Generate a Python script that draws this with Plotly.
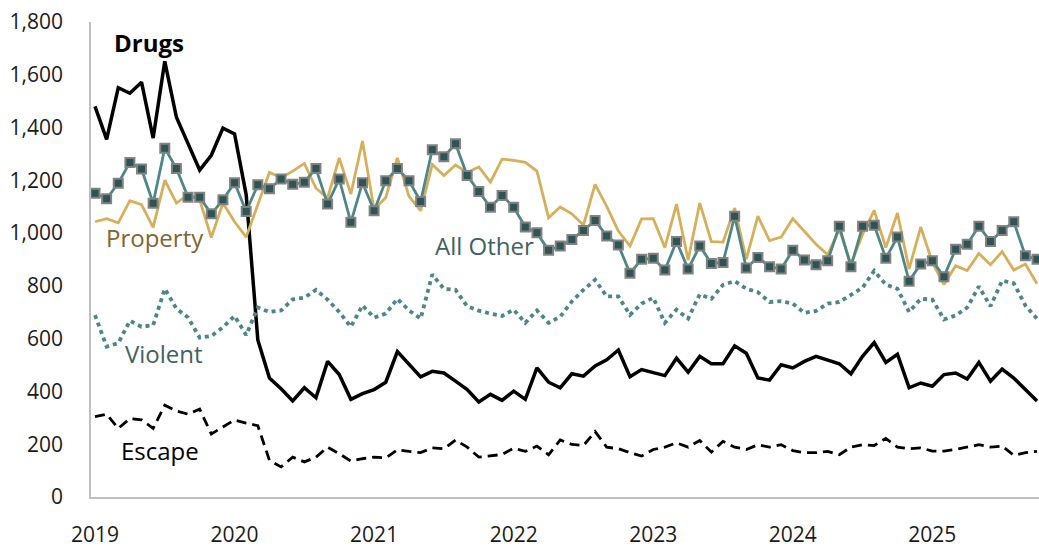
import plotly.graph_objects as go

# Monthly data, Jan 2019 - Oct 2025 (82 months)
years = ["2019", "2020", "2021", "2022", "2023", "2024", "2025"]

drugs = [1480, 1355, 1551, 1530, 1572, 1360, 1651, 1439, 1339, 1239, 1295, 1398,
         1376, 1145, 595, 451, 410, 364, 414, 376, 514, 464, 370, 392,
         407, 435, 551, 501, 455, 476, 470, 439, 407, 360, 389, 366,
         401, 370, 489, 435, 414, 467, 458, 497, 520, 557, 456, 483,
         473, 460, 526, 473, 533, 505, 505, 573, 545, 451, 443, 501,
         489, 514, 533, 518, 505, 467, 533, 585, 510, 541, 414, 432,
         420, 464, 470, 447, 510, 439, 485, 451, 407, 364]

property_ = [1043, 1055, 1039, 1123, 1108, 1022, 1201, 1114, 1145, 1126, 983, 1114,
             1043, 985, 1108, 1230, 1210, 1235, 1264, 1170, 1133, 1285, 1148, 1349,
             1089, 1135, 1285, 1139, 1085, 1260, 1218, 1258, 1230, 1251, 1193, 1280,
             1276, 1268, 1235, 1058, 1099, 1073, 1030, 1185, 1101, 1008, 951, 1054,
             1055, 945, 1110, 898, 1114, 968, 966, 1095, 901, 1064, 972, 985,
             1055, 1008, 958, 918, 1014, 883, 995, 1086, 945, 1076, 864, 1023,
             889, 805, 876, 858, 923, 880, 930, 860, 883, 808]

all_other = [1151, 1130, 1189, 1268, 1243, 1113, 1322, 1245, 1136, 1136, 1073, 1126,
             1191, 1082, 1183, 1168, 1205, 1185, 1193, 1245, 1110, 1205, 1041, 1191,
             1085, 1198, 1245, 1198, 1120, 1316, 1289, 1339, 1218, 1158, 1098, 1143,
             1098, 1023, 1001, 935, 951, 976, 1010, 1048, 989, 955, 848, 901,
             905, 860, 968, 864, 951, 885, 889, 1064, 868, 908, 873, 864,
             935, 898, 880, 895, 1026, 873, 1026, 1030, 905, 985, 818, 883,
             895, 835, 939, 958, 1026, 968, 1010, 1043, 914, 901]

violent = [689, 570, 583, 668, 645, 651, 789, 714, 680, 604, 610, 643,
           686, 614, 718, 701, 707, 749, 755, 785, 748, 701, 645, 726,
           680, 695, 751, 707, 676, 843, 789, 785, 723, 706, 695, 686,
           710, 660, 707, 660, 683, 741, 785, 823, 760, 760, 690, 733,
           755, 660, 710, 676, 768, 751, 804, 818, 789, 776, 739, 742,
           733, 698, 705, 733, 739, 766, 793, 857, 805, 789, 701, 751,
           748, 673, 688, 718, 798, 723, 820, 810, 726, 676]

escape = [305, 314, 260, 297, 292, 260, 348, 326, 314, 333, 239, 264,
          292, 280, 270, 139, 114, 151, 133, 151, 189, 164, 136, 145,
          151, 148, 179, 173, 168, 186, 183, 216, 189, 151, 155, 161,
          185, 173, 193, 160, 216, 199, 195, 248, 189, 183, 168, 155,
          180, 189, 205, 189, 214, 170, 211, 189, 180, 198, 189, 198,
          176, 168, 168, 173, 160, 189, 198, 195, 222, 189, 183, 186,
          174, 174, 180, 189, 198, 189, 193, 158, 168, 173]

months = list(range(len(drugs)))
tick_pos = [12 * i for i in range(len(years))]

fig = go.Figure()

fig.add_trace(go.Scatter(x=months, y=drugs, mode="lines", name="Drugs",
                         line=dict(color="#000000", width=3.5)))
fig.add_trace(go.Scatter(x=months, y=escape, mode="lines", name="Escape",
                         line=dict(color="#000000", width=2.8, dash="10px,6px")))
fig.add_trace(go.Scatter(x=months, y=violent, mode="lines", name="Violent",
                         line=dict(color="#4E8686", width=3.8, dash="4px,4px")))
fig.add_trace(go.Scatter(x=months, y=property_, mode="lines", name="Property",
                         line=dict(color="#D5AF5A", width=2.8)))
fig.add_trace(go.Scatter(x=months, y=all_other, mode="lines+markers", name="All Other",
                         line=dict(color="#4F8787", width=2.8),
                         marker=dict(symbol="square", size=9, color="#2F5454",
                                     line=dict(color="#828282", width=2)),
                         cliponaxis=False))

label_font = "Open Sans"
annos = [
    dict(text="<b>Drugs</b>", x=4.64, y=1721, color="#000000"),
    dict(text="Property", x=5.14, y=982, color="#806530"),
    dict(text="All Other", x=33.5, y=952, color="#3F6161"),
    dict(text="Violent", x=5.93, y=544, color="#3F6161"),
    dict(text="Escape", x=5.59, y=176, color="#000000"),
]
for a in annos:
    fig.add_annotation(x=a["x"], y=a["y"], xref="x", yref="y", text=a["text"],
                       showarrow=False, xanchor="center", yanchor="middle",
                       font=dict(family=label_font, size=24, color=a["color"]))

fig.update_layout(
    width=1039, height=548,
    margin=dict(l=91, r=0, t=22, b=46),
    plot_bgcolor="white", paper_bgcolor="white",
    showlegend=False,
    font=dict(family="Open Sans", size=21, color="#1a1a1a"),
    xaxis=dict(range=[-0.344, 81.17], tickvals=tick_pos, ticktext=years,
               showgrid=False, zeroline=False, showline=True,
               linecolor="#BFBFBF", linewidth=1.5,
               ticks="outside", ticklen=18, tickcolor="rgba(0,0,0,0)"),
    yaxis=dict(range=[0, 1800], dtick=200, tickformat=",",
               showgrid=False, zeroline=False, showline=True,
               linecolor="#BFBFBF", linewidth=1.5,
               ticks="outside", ticklen=22, tickcolor="rgba(0,0,0,0)"),
)

fig.write_html("out.html", config={"displayModeBar": False})
